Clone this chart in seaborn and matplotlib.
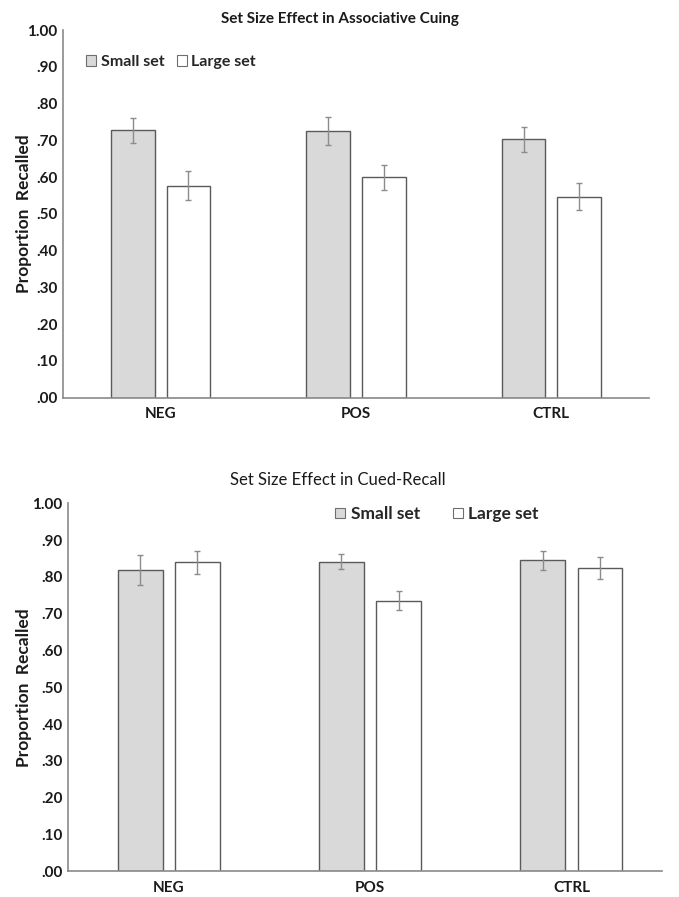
import matplotlib
matplotlib.use("Agg")
import matplotlib.pyplot as plt
from matplotlib.patches import Patch
import numpy as np
import pandas as pd
import seaborn as sns

# Recall proportions per emotional condition and set size
conditions = ["NEG", "POS", "CTRL"]
set_sizes = ["Small set", "Large set"]

assoc_small = [0.727, 0.725, 0.703]
assoc_large = [0.577, 0.600, 0.547]
assoc_small_err = [0.035, 0.038, 0.034]
assoc_large_err = [0.039, 0.034, 0.037]

cued_small = [0.820, 0.842, 0.845]
cued_large = [0.840, 0.736, 0.824]
cued_small_err = [0.041, 0.020, 0.027]
cued_large_err = [0.031, 0.026, 0.030]

y_ticks = [0.0, 0.1, 0.2, 0.3, 0.4, 0.5, 0.6, 0.7, 0.8, 0.9, 1.0]
y_tick_labels = [".00", ".10", ".20", ".30", ".40", ".50", ".60", ".70", ".80", ".90", "1.00"]

sns.set_style("white")
plt.rcParams["font.family"] = ["Lato", "DejaVu Sans"]

fill = {"Small set": "#d9d9d9", "Large set": "#ffffff"}
edge = "#5a5a5a"
axis_grey = "#8a8a8a"
text_col = "#1a1a1a"


def draw_panel(ax, small, large, small_err, large_err, xmax):
    df = pd.DataFrame({
        "Condition": conditions * 2,
        "Set": [set_sizes[0]] * 3 + [set_sizes[1]] * 3,
        "Proportion": small + large,
    })
    sns.barplot(data=df, x="Condition", y="Proportion", hue="Set",
                hue_order=set_sizes, order=conditions, palette=fill,
                saturation=1, width=0.568, gap=0.215, edgecolor=edge,
                linewidth=1.0, errorbar=None, legend=False, ax=ax)
    for cont, errs in zip(ax.containers, [small_err, large_err]):
        xs = [p.get_x() + p.get_width() / 2 for p in cont.patches]
        ys = [p.get_height() for p in cont.patches]
        ax.errorbar(xs, ys, yerr=errs, fmt="none", ecolor="#8c8c8c",
                    elinewidth=1.0, capsize=2.5, capthick=1.0, zorder=5)
    ax.set_xlim(-0.5, xmax)
    ax.set_ylim(0, 1.0)
    ax.set_yticks(y_ticks)
    ax.set_yticklabels(y_tick_labels)
    ax.set_xlabel("")
    ax.set_ylabel("Proportion  Recalled", fontsize=12.5, fontweight="bold",
                  color=text_col)
    ax.tick_params(axis="both", length=0, labelsize=11, colors=text_col)
    ax.tick_params(axis="y", pad=4)
    ax.tick_params(axis="x", pad=7)
    for lab in ax.get_xticklabels() + ax.get_yticklabels():
        lab.set_fontweight("bold")
    for side in ["top", "right"]:
        ax.spines[side].set_visible(False)
    for side in ["left", "bottom"]:
        ax.spines[side].set_color(axis_grey)
        ax.spines[side].set_linewidth(1.2)


def legend_handles():
    return [Patch(facecolor=fill[s], edgecolor="#6e6e6e", linewidth=0.8, label=s)
            for s in set_sizes]


W, H = 679, 897
fig = plt.figure(figsize=(W / 100, H / 100), dpi=100)

# Associative cuing panel
ax1 = fig.add_axes([63 / W, 1 - 397.7 / H, 586 / W, 367.7 / H])
draw_panel(ax1, assoc_small, assoc_large, assoc_small_err, assoc_large_err, 2.5)
ax1.yaxis.set_label_coords(-0.053, 0.5)
ax1.legend(handles=legend_handles(), loc="center left",
           bbox_to_anchor=(0.040, 0.913), ncol=2, frameon=False,
           prop={"weight": "bold", "size": 11.5}, handlelength=0.62,
           handleheight=0.62, handletextpad=0.3, columnspacing=0.75,
           borderpad=0, borderaxespad=0)
fig.text(0.5, 1 - 18.5 / H, "Set Size Effect in Associative Cuing",
         ha="center", va="center", fontsize=11, fontweight="bold",
         color=text_col)

# Cued-recall panel
ax2 = fig.add_axes([68 / W, 1 - 871 / H, 594 / W, 367.5 / H])
draw_panel(ax2, cued_small, cued_large, cued_small_err, cued_large_err, 2.45)
ax2.yaxis.set_label_coords(-0.06, 0.5)
ax2.legend(handles=legend_handles(), loc="center left",
           bbox_to_anchor=(0.450, 0.971), ncol=2, frameon=False,
           prop={"weight": "bold", "size": 12.5}, handlelength=0.58,
           handleheight=0.58, handletextpad=0.3, columnspacing=1.9,
           borderpad=0, borderaxespad=0)
fig.text(0.497, 1 - 480 / H, "Set Size Effect in Cued-Recall",
         ha="center", va="center", fontsize=12, color=text_col)

fig.savefig("out.png", dpi=100, facecolor="white")
